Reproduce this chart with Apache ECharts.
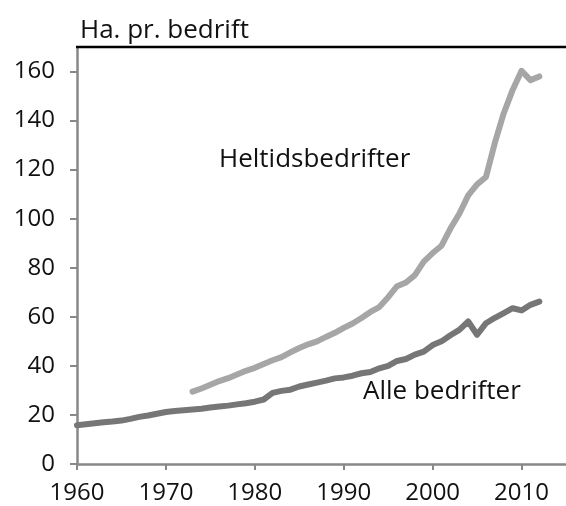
<!DOCTYPE html>
<html>
<head>
<meta charset="utf-8">
<script src="https://cdn.jsdelivr.net/npm/echarts@6/dist/echarts.min.js"></script>
<style>html,body{margin:0;padding:0;background:#fff}#c{width:566px;height:506px}</style>
</head>
<body>
<div id="c"></div>
<script>
var yAxisTitle = 'Ha. pr. bedrift';
var seriesNames = ['Heltidsbedrifter', 'Alle bedrifter'];
var alleYears = [];
for (var y = 1960; y <= 2012; y++) alleYears.push(y);
var alleValues = [15.8,16.2,16.6,17.0,17.3,17.7,18.4,19.2,19.8,20.5,
  21.2,21.6,21.9,22.2,22.5,23.0,23.4,23.8,24.3,24.8,
  25.4,26.3,29.0,29.8,30.3,31.6,32.4,33.2,34.0,34.9,
  35.3,36.0,37.0,37.5,39.0,40.0,42.0,42.8,44.6,45.8,
  48.5,50.0,52.5,54.7,58.1,52.7,57.4,59.6,61.5,63.5,
  62.6,64.9,66.2];
var heltidYears = [];
for (var y2 = 1973; y2 <= 2012; y2++) heltidYears.push(y2);
var heltidValues = [29.5,30.8,32.3,33.8,35.0,36.5,38.0,
  39.2,40.8,42.3,43.6,45.5,47.3,48.8,50.0,51.8,53.5,
  55.5,57.3,59.5,62.0,64.0,68.0,72.5,74.0,77.0,82.5,
  86.0,89.0,96.0,102.0,109.5,114.0,117.0,131.0,143.0,152.5,
  160.3,156.5,158.0];

function pairs(xs, vs){ return xs.map(function(x,i){ return [x, vs[i]]; }); }

var font = '"Open Sans", "Noto Sans", sans-serif';
var chart = echarts.init(document.getElementById('c'), null, {renderer:'canvas'});
chart.setOption({
  animation: false,
  grid: {left: 77, right: 0, top: 47, bottom: 42},
  title: {text: yAxisTitle, left: 75, top: 13,
    textStyle: {fontFamily: font, fontSize: 26, fontWeight: 'normal', color: '#111'}},
  xAxis: {
    type: 'value', min: 1960, max: 2015, interval: 10,
    axisLine: {show: true, lineStyle: {color: '#888', width: 2.5}},
    axisTick: {show: true, length: 6, lineStyle: {color: '#888', width: 2}},
    axisLabel: {showMaxLabel: false, fontFamily: font, fontSize: 24, color: '#111', margin: 17,
      formatter: function(v){ return String(v); }},
    splitLine: {show: false}
  },
  yAxis: {
    type: 'value', min: 0, max: 170, interval: 20,
    axisLine: {show: true, lineStyle: {color: '#888', width: 2.5}},
    axisTick: {show: true, length: 7, lineStyle: {color: '#888', width: 2}},
    axisLabel: {showMaxLabel: false, fontFamily: font, fontSize: 24, color: '#111', margin: 22},
    splitLine: {show: false}
  },
  graphic: [
    {type: 'line', shape: {x1: 76, y1: 47, x2: 566, y2: 47}, style: {stroke: '#000', lineWidth: 2.5}, z: 10},
    {type: 'text', left: 219, top: 147, style: {text: seriesNames[0], font: '26px ' + font, fill: '#111'}},
    {type: 'text', left: 363, top: 379, style: {text: seriesNames[1], font: '26px ' + font, fill: '#111'}}
  ],
  series: [
    {name: seriesNames[0], type: 'line', data: pairs(heltidYears, heltidValues), showSymbol: false,
      lineStyle: {color: '#a6a6a6', width: 6, cap: 'round', join: 'round'}},
    {name: seriesNames[1], type: 'line', data: pairs(alleYears, alleValues), showSymbol: false,
      lineStyle: {color: '#767676', width: 6, cap: 'round', join: 'round'}}
  ]
});
</script>
</body>
</html>
